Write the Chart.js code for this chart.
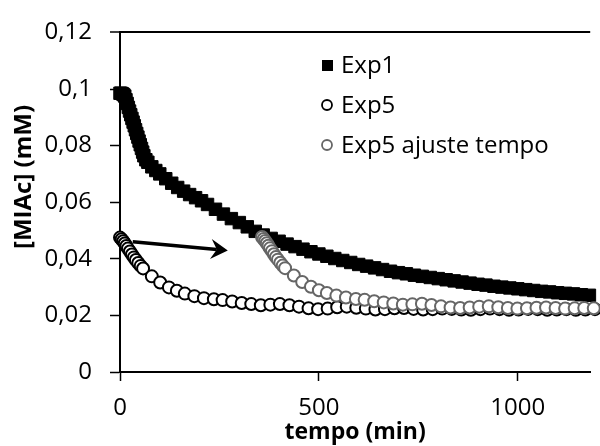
<!DOCTYPE html>
<html>
<head>
<meta charset="utf-8">
<script src="https://cdn.jsdelivr.net/npm/chart.js@4.4.0/dist/chart.umd.min.js"></script>
<style>
	html, body { margin: 0; padding: 0; background: #fff; }
</style>
</head>
<body>
<canvas id="myChart" width="600" height="446"></canvas>
<script>
// tempo (min) / [MIAc] (mM)
const exp1Tempo = [
	0, 3, 6, 9, 12, 15, 18, 21, 24, 27,
	30, 33, 36, 39, 42, 45, 48, 51, 54, 57,
	60, 65, 70, 80, 90, 100, 115, 130, 145, 160,
	175, 190, 205, 220, 240, 260, 280, 300, 320, 340,
	360, 380, 400, 420, 440, 460, 480, 500, 520, 540,
	560, 580, 600, 620, 640, 660, 680, 700, 720, 740,
	760, 780, 800, 820, 840, 860, 880, 900, 920, 940,
	960, 980, 1000, 1020, 1040, 1060, 1080, 1100, 1120, 1140,
	1160, 1180
]
const exp1Miac = [
	0.0985, 0.0985, 0.0983, 0.098, 0.0975, 0.0962, 0.0949, 0.0935, 0.0922, 0.0909,
	0.0896, 0.0883, 0.087, 0.0856, 0.0843, 0.083, 0.0816, 0.0803, 0.079, 0.0777,
	0.0764, 0.075, 0.0741, 0.0725, 0.0712, 0.07, 0.0683, 0.0667, 0.0652, 0.0639,
	0.0627, 0.0616, 0.0605, 0.0592, 0.0575, 0.0558, 0.0542, 0.0528, 0.0513, 0.0497,
	0.0484, 0.0472, 0.0462, 0.0452, 0.0443, 0.0434, 0.0425, 0.0417, 0.0409, 0.0401,
	0.0394, 0.0387, 0.038, 0.0374, 0.0368, 0.0362, 0.0356, 0.0351, 0.0347, 0.0342,
	0.0338, 0.0334, 0.033, 0.0326, 0.0322, 0.0318, 0.0314, 0.031, 0.0307, 0.0303,
	0.03, 0.0297, 0.0294, 0.0291, 0.0288, 0.0285, 0.0283, 0.028, 0.0278, 0.0276,
	0.0273, 0.0271
]

const exp5Tempo = [
	0, 4, 8, 12, 16, 20, 25, 30, 35, 40,
	46, 52, 58, 80, 101, 123, 143, 163, 187, 211,
	236, 258, 282, 306, 330, 354, 378, 402, 426, 450,
	474, 498, 522, 546, 570, 594, 618, 642, 666, 690,
	714, 738, 762, 786, 810, 834, 858, 882, 906, 930,
	954, 978, 1002, 1026, 1050, 1074, 1098, 1122, 1146, 1170,
	1194
]
const exp5Miac = [
	0.0475, 0.0469, 0.0462, 0.0454, 0.0445, 0.0436, 0.0426, 0.0415, 0.0405, 0.0396,
	0.0385, 0.0375, 0.0366, 0.0338, 0.0316, 0.0299, 0.0287, 0.0277, 0.0268, 0.0261,
	0.0257, 0.0254, 0.0249, 0.0244, 0.024, 0.0236, 0.0238, 0.024, 0.0236, 0.0231,
	0.0225, 0.0222, 0.0224, 0.0229, 0.0231, 0.0227, 0.0224, 0.0221, 0.0222, 0.0225,
	0.0226, 0.0223, 0.0221, 0.0222, 0.0224, 0.0223, 0.0221, 0.022, 0.0222, 0.0224,
	0.0222, 0.022, 0.0221, 0.0223, 0.0222, 0.022, 0.0221, 0.0222, 0.022, 0.0221,
	0.0222
]

const exp5AjTempo = [
	357, 361, 365, 369, 373, 377, 382, 387, 392, 397,
	403, 409, 415, 437, 458, 480, 500, 520, 544, 568,
	593, 615, 639, 663, 687, 711, 735, 759, 783, 807,
	831, 855, 879, 903, 927, 951, 975, 999, 1023, 1047,
	1071, 1095, 1119, 1143, 1167, 1191
]
const exp5AjMiac = [
	0.0477, 0.047, 0.0463, 0.0455, 0.0446, 0.0437, 0.0427, 0.0416, 0.0406, 0.0397,
	0.0386, 0.0376, 0.0367, 0.0341, 0.0318, 0.0301, 0.0289, 0.0279, 0.027, 0.0263,
	0.0258, 0.0255, 0.025, 0.0246, 0.0242, 0.0238, 0.0239, 0.0241, 0.0237, 0.0232,
	0.0228, 0.0226, 0.0228, 0.0231, 0.0232, 0.0229, 0.0226, 0.0224, 0.0225, 0.0227,
	0.0228, 0.0226, 0.0224, 0.0225, 0.0226, 0.0225
]

const xTicks = [0, 500, 1000]
const yTicks = [0, 0.02, 0.04, 0.06, 0.08, 0.1, 0.12]

// arrow (tempo, MIAc) start and tip
const arrowFrom = [32, 0.046]
const arrowTo = [271, 0.0429]

const FONT = '"Open Sans", "DejaVu Sans", sans-serif'

function toPoints(xs, ys) {
	return xs.map((x, i) => ({ x: x, y: ys[i] }))
}

function fmtComma(v) {
	return parseFloat(v.toFixed(2)).toString().replace('.', ',')
}

const data = {
	datasets: [{
		label: 'Exp1',
		data: toPoints(exp1Tempo, exp1Miac),
		showLine: false,
		pointStyle: 'rect',
		pointRadius: 8.8,
		pointBackgroundColor: '#000',
		pointBorderColor: '#000',
		pointBorderWidth: 1,
		order: 2,
		clip: false
	}, {
		label: 'Exp5',
		data: toPoints(exp5Tempo, exp5Miac),
		showLine: false,
		pointStyle: 'circle',
		pointRadius: 6,
		pointBackgroundColor: '#fff',
		pointBorderColor: '#000',
		pointBorderWidth: 2,
		order: 1,
		clip: false
	}, {
		label: 'Exp5 ajuste tempo',
		data: toPoints(exp5AjTempo, exp5AjMiac),
		showLine: false,
		pointStyle: 'circle',
		pointRadius: 6,
		pointBackgroundColor: '#fff',
		pointBorderColor: '#666',
		pointBorderWidth: 2,
		order: 0,
		clip: false
	}]
}

// legend inside the plot, drawn by hand
const insideLegend = {
	id: 'insideLegend',
	afterDraw(chart) {
		const ctx = chart.ctx
		ctx.save()
		ctx.font = '24px ' + FONT
		ctx.textBaseline = 'middle'
		chart.data.datasets.forEach((ds, i) => {
			const y = 65 + i * 40
			const x = 327
			if (ds.pointStyle === 'rect') {
				ctx.fillStyle = '#000'
				ctx.fillRect(x - 5, y - 5, 11, 11)
			} else {
				ctx.beginPath()
				ctx.arc(x, y, 5, 0, Math.PI * 2)
				ctx.fillStyle = '#fff'
				ctx.fill()
				ctx.lineWidth = 1.8
				ctx.strokeStyle = ds.pointBorderColor
				ctx.stroke()
			}
			ctx.fillStyle = '#000'
			ctx.fillText(ds.label, 341, y + 1)
		})
		ctx.restore()
	}
}

const yTitle = {
	id: 'yTitle',
	afterDraw(chart) {
		const ctx = chart.ctx
		ctx.save()
		ctx.translate(24, 177)
		ctx.rotate(-Math.PI / 2)
		ctx.font = 'bold 24px ' + FONT
		ctx.fillStyle = '#000'
		ctx.textAlign = 'center'
		ctx.textBaseline = 'middle'
		ctx.fillText('[MIAc] (mM)', 0, 0)
		ctx.restore()
	}
}

const arrowPlugin = {
	id: 'arrow',
	afterDatasetsDraw(chart) {
		const xs = chart.scales.x, ys = chart.scales.y
		const x0 = xs.getPixelForValue(arrowFrom[0]), y0 = ys.getPixelForValue(arrowFrom[1])
		const x1 = xs.getPixelForValue(arrowTo[0]), y1 = ys.getPixelForValue(arrowTo[1])
		const ang = Math.atan2(y1 - y0, x1 - x0)
		const len = 17, half = 10, notch = 6
		const ctx = chart.ctx
		ctx.save()
		ctx.translate(x1, y1)
		ctx.rotate(ang)
		const L = Math.hypot(x1 - x0, y1 - y0)
		ctx.beginPath()
		ctx.moveTo(-L, 0)
		ctx.lineTo(-len + notch, 0)
		ctx.lineWidth = 3.5
		ctx.strokeStyle = '#000'
		ctx.stroke()
		ctx.beginPath()
		ctx.moveTo(0, 0)
		ctx.lineTo(-len, -half)
		ctx.lineTo(-len + notch, 0)
		ctx.lineTo(-len, half)
		ctx.closePath()
		ctx.fillStyle = '#000'
		ctx.fill()
		ctx.restore()
	}
}

const ctx = document.getElementById('myChart')
var chart = new Chart(ctx, {
	type: 'scatter',
	data: data,
	plugins: [insideLegend, yTitle, arrowPlugin],
	options: {
		responsive: false,
		animation: false,
		devicePixelRatio: 1,
		layout: { padding: { top: 22, right: 0, left: 0, bottom: 0 } },
		plugins: {
			legend: { display: false },
			tooltip: { enabled: false }
		},
		scales: {
			x: {
				type: 'linear',
				min: 0,
				max: 1182,
				afterBuildTicks: function (axis) {
					axis.ticks = xTicks.map(v => ({ value: v }))
				},
				afterFit: function (axis) {
					axis.height = 74
				},
				border: { display: true, color: '#000', width: 2 },
				grid: {
					drawOnChartArea: false,
					drawTicks: true,
					tickLength: 9,
					tickColor: '#000',
					tickWidth: 1.5
				},
				ticks: {
					color: '#000',
					padding: 13,
					font: { family: FONT, size: 24 },
					maxRotation: 0,
					callback: function (value) {
						return String(value)
					}
				},
				title: {
					display: true,
					text: 'tempo (min)',
					color: '#000',
					font: { family: FONT, size: 23, weight: 'bold' },
					padding: { top: 0, bottom: 0 }
				}
			},
			y: {
				type: 'linear',
				min: 0,
				max: 0.12,
				afterBuildTicks: function (axis) {
					axis.ticks = yTicks.map(v => ({ value: v }))
				},
				afterFit: function (axis) {
					axis.width = 120
				},
				border: { display: true, color: '#000', width: 2 },
				grid: {
					drawOnChartArea: true,
					color: function (c) {
						return (c.tick && Math.abs(c.tick.value - 0.12) < 1e-9) ? '#000' : 'rgba(0,0,0,0)'
					},
					lineWidth: function (c) {
						return (c.tick && Math.abs(c.tick.value - 0.12) < 1e-9) ? 2 : 1
					},
					tickLength: 10,
					tickColor: '#000',
					tickWidth: 1.5
				},
				ticks: {
					color: '#000',
					padding: 18,
					font: { family: FONT, size: 24 },
					callback: function (value) {
						return fmtComma(value)
					}
				}
			}
		}
	}
})
</script>
</body>
</html>
